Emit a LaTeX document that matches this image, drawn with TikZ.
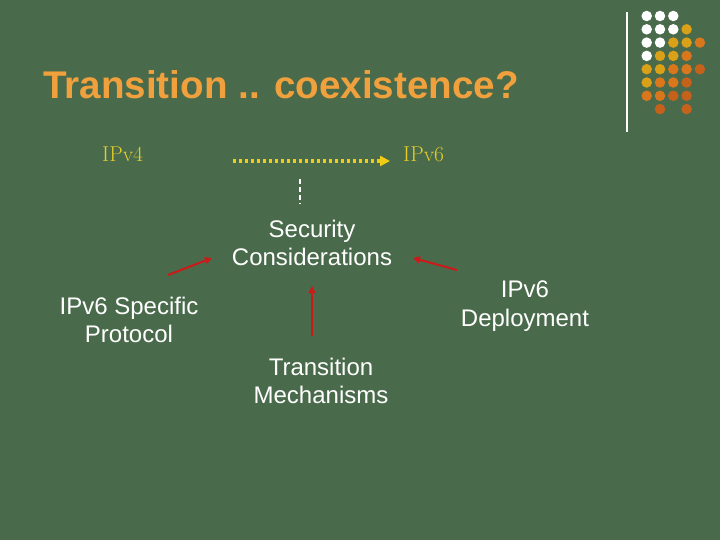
\documentclass[tikz,border=0pt]{standalone}
\usepackage{fontspec}
\setsansfont{Liberation Sans}
\usetikzlibrary{arrows.meta}
\definecolor{bg}{RGB}{74,107,75}
\definecolor{titleor}{RGB}{240,160,60}
\definecolor{ipy}{RGB}{232,205,40}
\definecolor{doty}{RGB}{240,205,20}
\definecolor{redarr}{RGB}{205,25,25}
\definecolor{dgold}{RGB}{218,160,24}
\definecolor{dor}{RGB}{218,118,28}
\definecolor{ddark}{RGB}{196,98,28}
\tikzset{
  body/.style={text=white,font=\sffamily\fontsize{24}{28.8}\selectfont,align=center,inner sep=0pt},
  ipv/.style={text=ipy,font=\rmfamily\fontsize{21.5}{24}\selectfont,inner sep=0pt},
  redline/.style={draw=redarr,line width=2pt,-{Triangle[length=7pt,width=7pt]}},
  dotc/.style={circle,inner sep=0pt,minimum size=10.5pt,fill=#1}
}
\begin{document}
\begin{tikzpicture}[x=1pt,y=-1pt]
\useasboundingbox[fill=bg] (0,0) rectangle (720,540);
% decoration
\draw[white,line width=1.3pt] (627,12) -- (627,132);
\foreach \c/\r/\col in {
 1/1/white,2/1/white,3/1/white,
 1/2/white,2/2/white,3/2/white,4/2/dgold,
 1/3/white,2/3/white,3/3/dgold,4/3/dgold,5/3/dor,
 1/4/white,2/4/dgold,3/4/dgold,4/4/dor,
 1/5/dgold,2/5/dgold,3/5/dor,4/5/dor,5/5/ddark,
 1/6/dgold,2/6/dor,3/6/dor,4/6/ddark,
 1/7/dor,2/7/dor,3/7/ddark,4/7/ddark,
 2/8/ddark,4/8/ddark}{
  \node[dotc=\col] (d\c\r) at ({633.4+13.3*\c},{2.7+13.3*\r}) {};
}
% title
\node[anchor=base west,inner sep=0pt,text=titleor,font=\sffamily\bfseries\fontsize{38.6}{42}\selectfont] (title) at (43,98.3) {Transition .. coexistence?};
% IPv4 / IPv6
\node[ipv,anchor=base west] (v4) at (102,162) {IPv4};
\node[ipv,anchor=base west] (v6) at (403,162) {IPv6};
\coordinate (ds) at (233,161);
\coordinate (de) at (390,161);
\draw[doty,line width=3.5pt,dash pattern=on 3pt off 3pt,-{Triangle[length=10pt,width=10pt]}] (ds) -- (de);
\coordinate (vs) at (300,179);
\coordinate (ve) at (300,204);
\draw[white,line width=1.2pt,dash pattern=on 5pt off 3pt] (vs) -- (ve);
% text blocks
\node[body] (sec) at (312,243) {Security\\Considerations};
\node[body] (spec) at (129,320) {IPv6 Specific\\Protocol};
\node[body] (dep) at (525,306) {IPv6\\Deployment};
\node[body] (mech) at (321,381) {Transition\\Mechanisms};
% red arrows
\coordinate (a1s) at (168,275);
\coordinate (a1e) at (212,258);
\coordinate (a2s) at (457,270);
\coordinate (a2e) at (413,258);
\coordinate (a3s) at (312,336);
\coordinate (a3e) at (312,286);
\draw[redline] (a1s) -- (a1e);
\draw[redline] (a2s) -- (a2e);
\draw[redline] (a3s) -- (a3e);
\end{tikzpicture}
\end{document}
